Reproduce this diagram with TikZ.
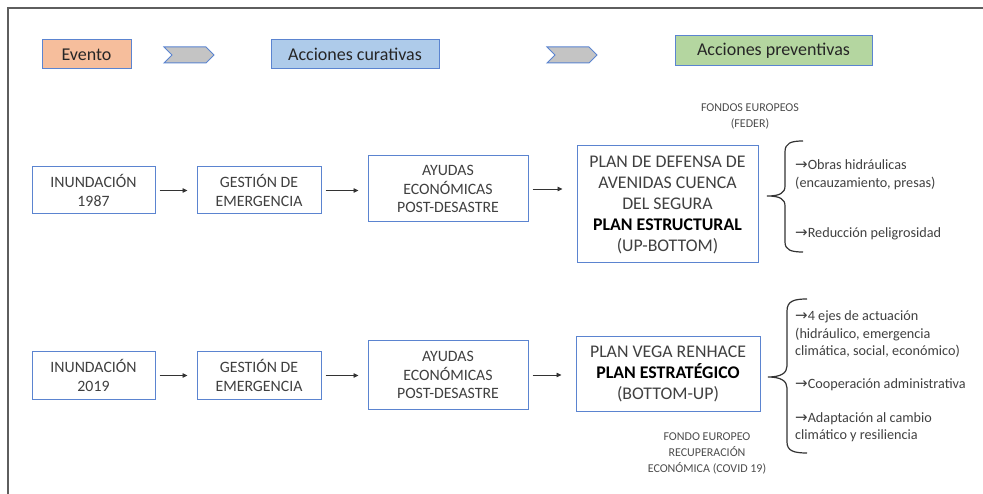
\documentclass[tikz,border=0pt]{standalone}
\usepackage{fontspec}
\setmainfont{Carlito}
\newfontfamily\arrfont{DejaVu Sans}
\usetikzlibrary{arrows.meta}
\definecolor{bordblue}{HTML}{5B84D0}
\definecolor{txtgray}{HTML}{404040}
\definecolor{evfill}{HTML}{F6BE9C}
\definecolor{curfill}{HTML}{AECBEA}
\definecolor{prefill}{HTML}{B4D6A0}
\definecolor{chevfill}{HTML}{C4C4C4}
\definecolor{framegray}{HTML}{5E5E5E}
\newcommand{\myarr}{{\arrfont\fontsize{15}{17}\selectfont →}}
\tikzset{
  box/.style={draw=bordblue, line width=1pt, fill=white, align=center, text=txtgray, inner sep=0pt},
  smallbox/.style={box, minimum width=123pt, minimum height=47pt, font=\fontsize{15.8}{19}\selectfont},
  midbox/.style={box, minimum width=160pt, minimum height=66pt, font=\fontsize{15.8}{18.5}\selectfont},
  bigbox/.style={box, font=\fontsize{17.8}{21}\selectfont},
  head/.style={draw=bordblue, line width=1pt, align=center, text=black!85, inner sep=0pt, font=\fontsize{18}{20}\selectfont},
  flow/.style={-{Triangle[length=5pt,width=4.5pt]}, line width=0.8pt, black!80, shorten <=4pt, shorten >=9pt},
  side/.style={anchor=west, align=left, text=txtgray, inner sep=0pt, font=\fontsize{14.2}{17.5}\selectfont},
  fund/.style={align=center, text=black!70, inner sep=0pt, font=\fontsize{12}{16}\selectfont},
  brace/.style={line width=1.2pt, black!80},
  chev/.style={draw=bordblue, line width=1pt, fill=chevfill, line join=miter}
}
\begin{document}
\begin{tikzpicture}[x=1pt,y=-1pt]
\useasboundingbox (0,0) rectangle (983,494);
% frame
\draw[framegray, line width=2pt] (8,494) -- (8,8) -- (983,8);
% header
\node[head, fill=evfill, minimum width=89pt, minimum height=29pt] (ev) at (86.5,54.5) {Evento};
\node[head, fill=curfill, minimum width=168pt, minimum height=29pt] (cur) at (355,54.5) {Acciones curativas};
\node[head, fill=prefill, minimum width=197pt, minimum height=30pt] (pre) at (773.5,51) {Acciones preventivas};
\draw[chev] (164,47) -- (206,47) -- (214,55) -- (206,63) -- (164,63) -- (172,55) -- cycle;
\draw[chev] (547,47) -- (589,47) -- (597,55) -- (589,63) -- (547,63) -- (555,55) -- cycle;
% row 1
\node[smallbox] (i87) at (93.5,190.5) {INUNDACIÓN\\1987};
\node[smallbox, minimum width=124pt] (g87) at (259,190.5) {GESTIÓN DE\\EMERGENCIA};
\node[midbox] (a87) at (448,189) {AYUDAS\\ECONÓMICAS\\POST-DESASTRE};
\node[bigbox, minimum width=181pt, minimum height=117pt] (p87) at (667.5,204.5) {PLAN DE DEFENSA DE\\AVENIDAS CUENCA\\DEL SEGURA\\\textbf{\color{black}PLAN ESTRUCTURAL}\\(UP-BOTTOM)};
\draw[flow] (i87.east) -- (g87.west);
\draw[flow] (g87.east) -- (g87.east -| a87.west);
\draw[flow, shorten >=14pt] (a87.east) -- (a87.east -| p87.west);
\node[fund] (f87) at (750,116.5) {FONDOS EUROPEOS\\(FEDER)};
\draw[brace] (803,141) .. controls (791,141) and (785,143) .. (785,152) -- (785,186) .. controls (785,193) and (780,196) .. (767,196) .. controls (780,196) and (785,199) .. (785,206) -- (785,242) .. controls (785,250) and (791,252) .. (803,252);
\node[side] (o87) at (795,174.5) {\myarr Obras hidráulicas\\(encauzamiento, presas)};
\node[side] (r87) at (795,234) {\myarr Reducción peligrosidad};
% row 2
\node[smallbox] (i19) at (93.5,375.5) {INUNDACIÓN\\2019};
\node[smallbox, minimum width=124pt] (g19) at (259,375.5) {GESTIÓN DE\\EMERGENCIA};
\node[midbox, minimum height=68pt] (a19) at (448,375) {AYUDAS\\ECONÓMICAS\\POST-DESASTRE};
\node[bigbox, minimum width=184pt, minimum height=74pt] (p19) at (668,374) {PLAN VEGA RENHACE\\\textbf{\color{black}PLAN ESTRATÉGICO}\\(BOTTOM-UP)};
\draw[flow] (i19.east) -- (g19.west);
\draw[flow] (g19.east) -- (g19.east -| a19.west);
\draw[flow, shorten >=14pt] (a19.east) -- (a19.east -| p19.west);
\node[fund] (f19) at (707,453.5) {FONDO EUROPEO\\RECUPERACIÓN\\ECONÓMICA (COVID 19)};
\draw[brace] (807,299) .. controls (794,299) and (787,301) .. (787,311) -- (787,366) .. controls (787,373) and (781,377) .. (768,377) .. controls (781,377) and (787,381) .. (787,388) -- (787,442) .. controls (787,451) and (794,453) .. (807,453);
\node[side] (e19) at (795,334.5) {\myarr 4 ejes de actuación\\(hidráulico, emergencia\\climática, social, económico)};
\node[side] (c19) at (795,385) {\myarr Cooperación administrativa};
\node[side] (ad19) at (795,427) {\myarr Adaptación al cambio\\climático y resiliencia};
\end{tikzpicture}
\end{document}
